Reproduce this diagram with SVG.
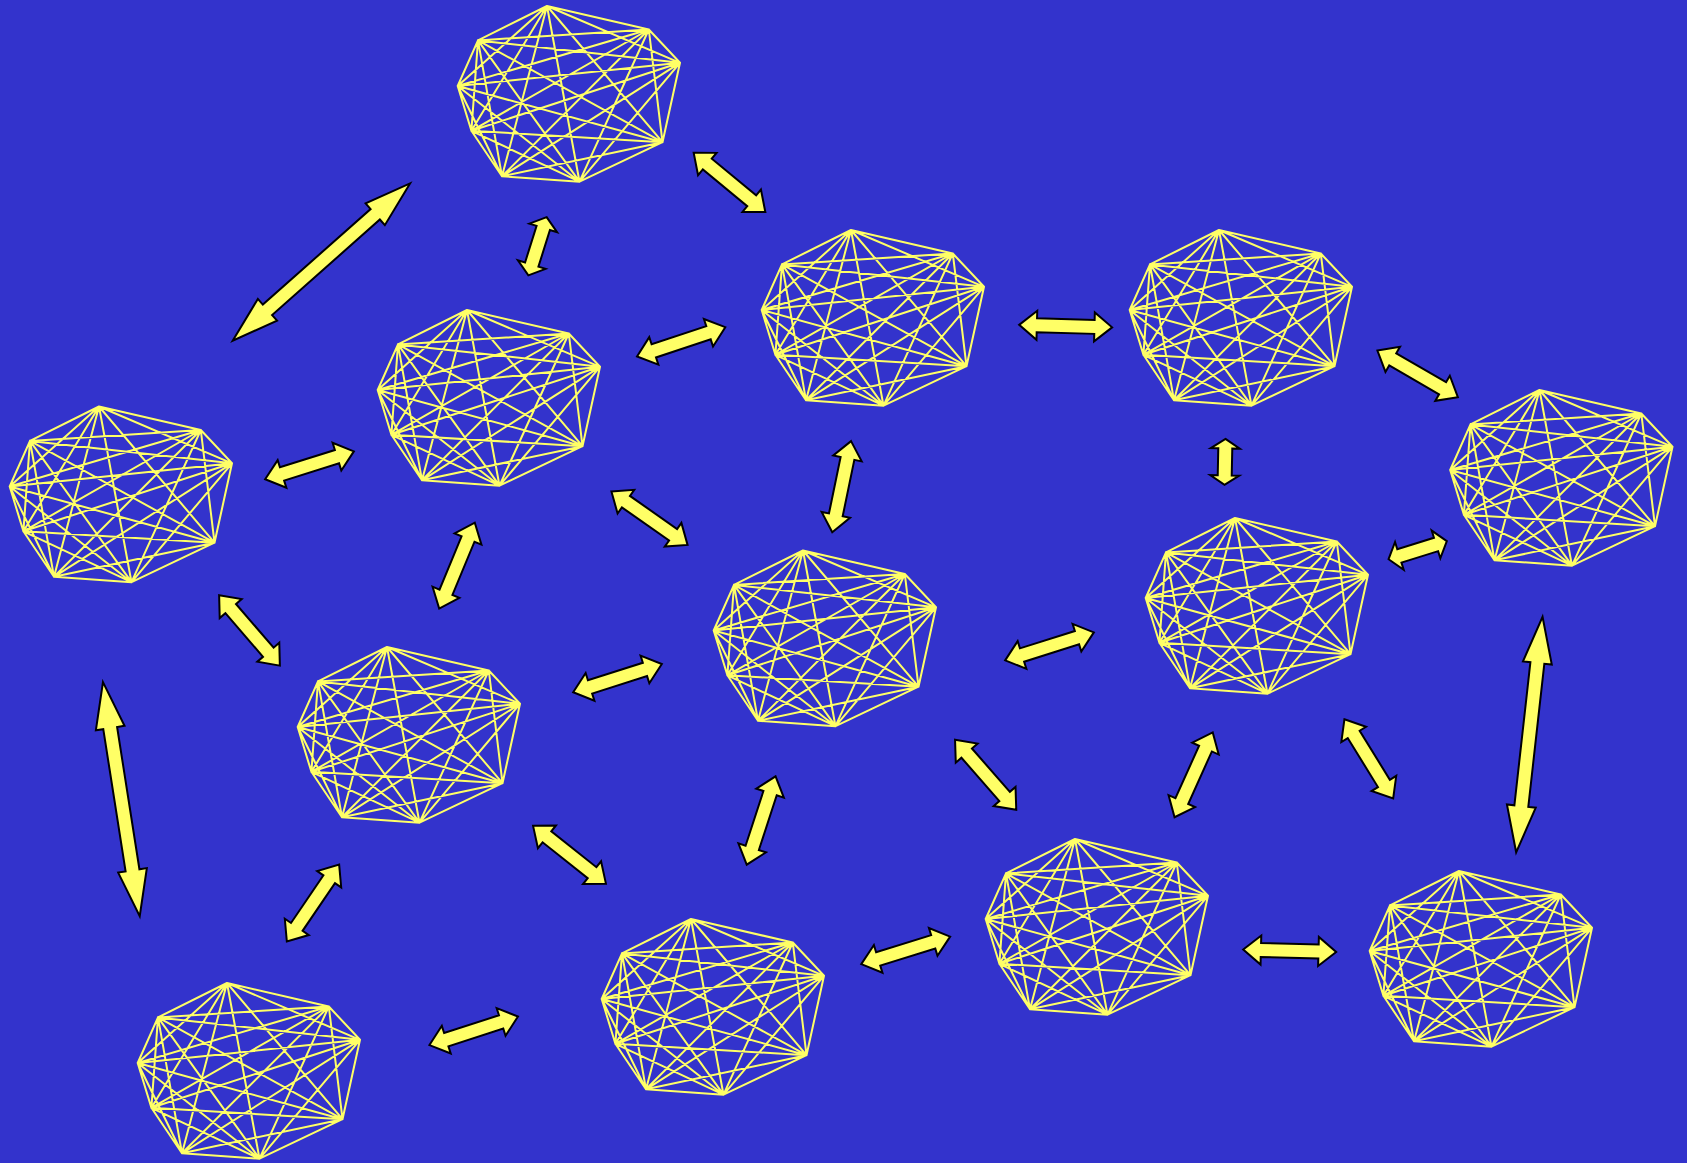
<svg xmlns="http://www.w3.org/2000/svg" xmlns:xlink="http://www.w3.org/1999/xlink" width="1687" height="1163" viewBox="0 0 1687 1163">
<style>
.k9{fill:none;stroke:#FFFF66;stroke-width:2;stroke-linecap:round}
.arr{fill:#FFFF66;stroke:#000;stroke-width:2;stroke-linejoin:miter}
</style>
<defs>
<path id="k9" class="k9" d="M0,0L101.8,23.5M0,0L133,56.8M0,0L115.5,136.2M0,0L32.5,175.7M0,0L-45,170.3M0,0L-75.6,124.8M0,0L-89.3,80M0,0L-69,34.4M101.8,23.5L133,56.8M101.8,23.5L115.5,136.2M101.8,23.5L32.5,175.7M101.8,23.5L-45,170.3M101.8,23.5L-75.6,124.8M101.8,23.5L-89.3,80M101.8,23.5L-69,34.4M133,56.8L115.5,136.2M133,56.8L32.5,175.7M133,56.8L-45,170.3M133,56.8L-75.6,124.8M133,56.8L-89.3,80M133,56.8L-69,34.4M115.5,136.2L32.5,175.7M115.5,136.2L-45,170.3M115.5,136.2L-75.6,124.8M115.5,136.2L-89.3,80M115.5,136.2L-69,34.4M32.5,175.7L-45,170.3M32.5,175.7L-75.6,124.8M32.5,175.7L-89.3,80M32.5,175.7L-69,34.4M-45,170.3L-75.6,124.8M-45,170.3L-89.3,80M-45,170.3L-69,34.4M-75.6,124.8L-89.3,80M-75.6,124.8L-69,34.4M-89.3,80L-69,34.4"/>
<polygon id="aL" class="arr" points="-118.5,0 -72,-14.5 -72,-7 72,-7 72,-14.5 118.5,0 72,14.5 72,7 -72,7 -72,14.5"/>
<polygon id="aM" class="arr" points="-46.5,0 -28.8,-14.5 -28.8,-7 28.8,-7 28.8,-14.5 46.5,0 28.8,14.5 28.8,7 -28.8,7 -28.8,14.5"/>
<polygon id="aS" class="arr" points="-30.5,0 -19.2,-14.5 -19.2,-7 19.2,-7 19.2,-14.5 30.5,0 19.2,14.5 19.2,7 -19.2,7 -19.2,14.5"/>
<polygon id="aXS" class="arr" points="-23,0 -13.5,-14.5 -13.5,-7 13.5,-7 13.5,-14.5 23,0 13.5,14.5 13.5,7 -13.5,7 -13.5,14.5"/>
</defs>
<rect width="1687" height="1163" fill="#3333CC"/>
<g id="connectors">
<use href="#aL" transform="translate(321.35,262.05) rotate(-41.55)"/>
<use href="#aS" transform="translate(537.5,246.25) rotate(107.44)"/>
<use href="#aM" transform="translate(729.5,182.4) rotate(39.58)"/>
<use href="#aM" transform="translate(681.15,341.8) rotate(-18.34)"/>
<use href="#aM" transform="translate(1065.65,326.1) rotate(1.54)"/>
<use href="#aM" transform="translate(1417.65,373.85) rotate(30.1)"/>
<use href="#aM" transform="translate(309.5,465.3) rotate(-17.45)"/>
<use href="#aXS" transform="translate(1225,461.9) rotate(91.2)"/>
<use href="#aM" transform="translate(649.5,518.2) rotate(35.05)"/>
<use href="#aM" transform="translate(841.65,486.65) rotate(101.66)"/>
<use href="#aM" transform="translate(457,565.65) rotate(112.52)"/>
<use href="#aS" transform="translate(1417.7,550.15) rotate(-17.29)"/>
<use href="#aM" transform="translate(249.5,630.4) rotate(49.24)"/>
<use href="#aL" transform="translate(121.35,799.2) rotate(81.08)"/>
<use href="#aM" transform="translate(617.5,678.15) rotate(-17.62)"/>
<use href="#aM" transform="translate(1049.5,646.35) rotate(-17.5)"/>
<use href="#aL" transform="translate(1529.35,734.55) rotate(96.39)"/>
<use href="#aM" transform="translate(985.65,774.8) rotate(48.84)"/>
<use href="#aM" transform="translate(1193.65,774.85) rotate(114.24)"/>
<use href="#aM" transform="translate(1368.8,758.9) rotate(58.37)"/>
<use href="#aM" transform="translate(569.5,854.75) rotate(38.43)"/>
<use href="#aM" transform="translate(761.15,820.5) rotate(108.07)"/>
<use href="#aM" transform="translate(313,903.1) rotate(124.22)"/>
<use href="#aM" transform="translate(905.7,950.4) rotate(-17.17)"/>
<use href="#aM" transform="translate(1289.7,950.75) rotate(1.49)"/>
<use href="#aM" transform="translate(473.7,1030.8) rotate(-17.86)"/>
</g>
<g id="node1"><use href="#k9" x="547" y="6"/></g>
<g id="node2"><use href="#k9" x="99" y="406.5"/></g>
<g id="node3"><use href="#k9" x="467" y="310"/></g>
<g id="node4"><use href="#k9" x="851" y="230"/></g>
<g id="node5"><use href="#k9" x="1219" y="230"/></g>
<g id="node6"><use href="#k9" x="1539.5" y="390"/></g>
<g id="node7"><use href="#k9" x="1235" y="518"/></g>
<g id="node8"><use href="#k9" x="803" y="550.5"/></g>
<g id="node9"><use href="#k9" x="387" y="647"/></g>
<g id="node10"><use href="#k9" x="227" y="983"/></g>
<g id="node11"><use href="#k9" x="691" y="919"/></g>
<g id="node12"><use href="#k9" x="1075" y="839"/></g>
<g id="node13"><use href="#k9" x="1459" y="871"/></g>
</svg>
